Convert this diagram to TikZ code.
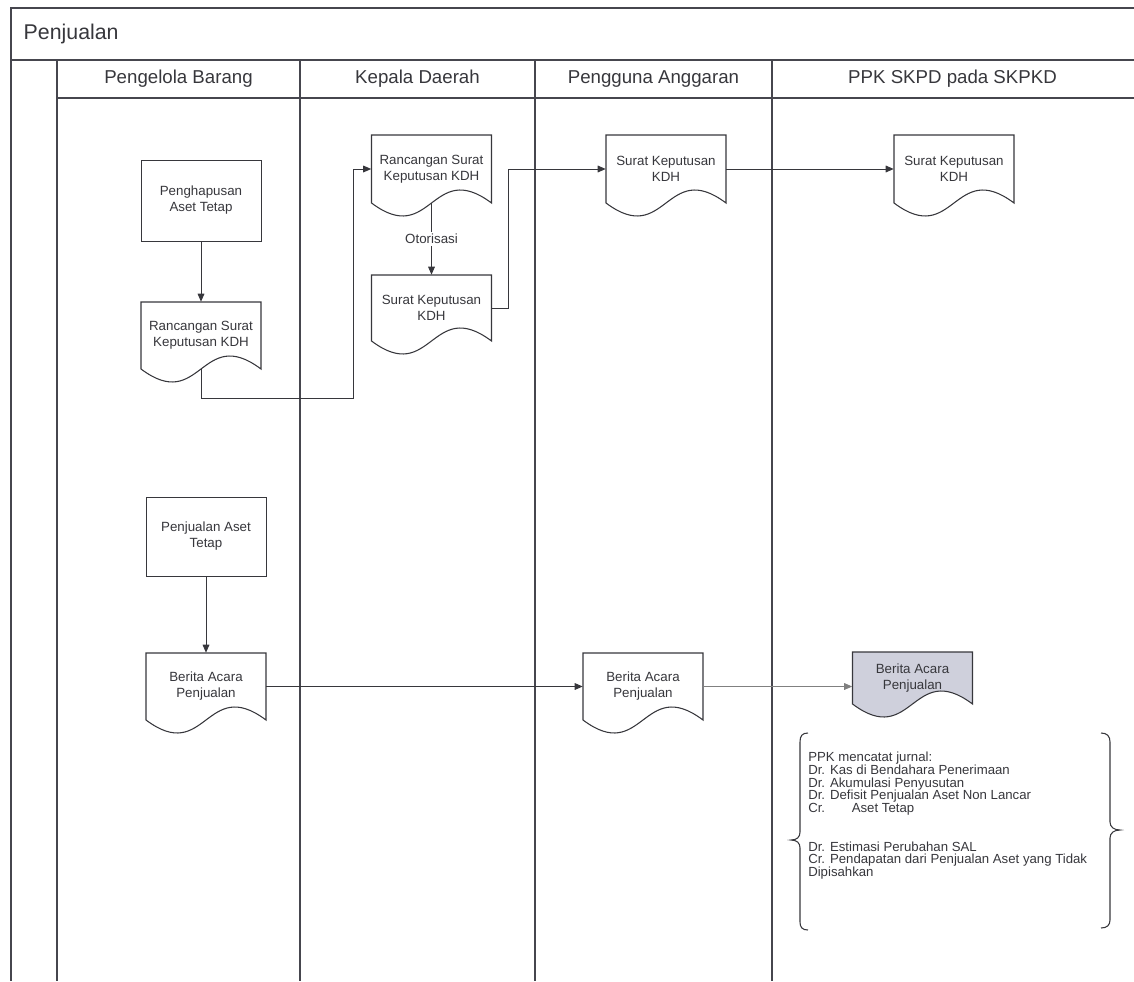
\documentclass[tikz,border=0pt]{standalone}
\usepackage{fontspec}
\setmainfont{Liberation Sans}
\usetikzlibrary{arrows.meta,calc}

\definecolor{inkgray}{RGB}{55,55,60}
\definecolor{lanegray}{RGB}{70,70,78}
\definecolor{docshade}{RGB}{207,208,220}

\tikzset{
  lane/.style={draw=lanegray, line width=1pt},
  docline/.style={draw=inkgray, line width=0.8pt},
  flow/.style={draw=inkgray, line width=0.75pt, -{Triangle[length=6pt,width=5pt]}},
  procbox/.style={draw=inkgray, line width=0.65pt, fill=white, minimum width=90pt, align=center,
    font=\fontsize{10}{12}\selectfont, text=inkgray, inner sep=2pt},
  doctext/.style={minimum width=90pt, align=center,
    font=\fontsize{10}{12}\selectfont, text=inkgray, inner sep=0pt},
  lanetitle/.style={font=\fontsize{14}{16}\selectfont, text=inkgray},
  journal/.style={align=left, font=\fontsize{9.9}{9.5}\selectfont, text=inkgray, inner sep=0pt},
}

% document symbol: straight top and sides, S-shaped bottom edge
% #1 fill, #2 name, #3 centre x, #4 top y, #5 height, #6 text
\newcommand{\docnode}[6][white]{%
  \draw[docline, fill=#1] (#3-60,#4) -- (#3-60,#4+#5)
    .. controls (#3,#4+#5+45) and (#3,#4+#5-45) .. (#3+60,#4+#5)
    -- (#3+60,#4) -- cycle;
  \node[doctext, minimum height=#5*0.75pt] (#2) at (#3,#4+#5/2) {#6};
}

\begin{document}
\begin{tikzpicture}[x=0.75pt, y=-0.75pt]
\useasboundingbox (0,0) rectangle (1134,981);

% frame, title row, lane headers and lane dividers
\draw[lane] (1134,8) -- (11,8) -- (11,981);
\draw[lane] (11,60) -- (1134,60);
\draw[lane] (57,98) -- (1134,98);
\foreach \xx in {57,300,535,772} \draw[lane] (\xx,60) -- (\xx,981);

\node[anchor=west, font=\fontsize{16}{18}\selectfont, text=inkgray] (title) at (19,34) {Penjualan};
\node[lanetitle] (h1) at (178.5,79) {Pengelola Barang};
\node[lanetitle] (h2) at (417.5,79) {Kepala Daerah};
\node[lanetitle] (h3) at (653.5,79) {Pengguna Anggaran};
\node[lanetitle] (h4) at (952.5,79) {PPK SKPD pada SKPKD};

% upper flow: write-off decree
\node[procbox, minimum height=60.75pt] (ph) at (201,200.5) {Penghapusan\\Aset Tetap};
\docnode{r1}{201}{302}{67}{Rancangan Surat\\Keputusan KDH}
\docnode{k1}{431.5}{135}{68}{Rancangan Surat\\Keputusan KDH}
\docnode{k2}{431.5}{275}{66}{Surat Keputusan\\KDH}
\docnode{p1}{666}{135}{68}{Surat Keputusan\\KDH}
\docnode{s1}{954}{135}{68}{Surat Keputusan\\KDH}

\draw[flow] (ph.south) -- (r1.north);
\draw[flow] (r1.south) -- ++(0,29) -| ($(k1.west)+(-18,0)$) -- (k1.west);
\draw[flow] (k1.south) -- node[fill=white, inner sep=1.5pt, font=\fontsize{10}{12}\selectfont, text=inkgray] {Otorisasi} (k2.north);
\draw[flow] (k2.east) -- ++(17,0) |- (p1.west);
\draw[flow] (p1.east) -- (s1.west);

% lower flow: sale
\node[procbox, minimum height=59.25pt] (pa) at (206,536.5) {Penjualan Aset\\Tetap};
\docnode{b1}{206}{653}{67}{Berita Acara\\Penjualan}
\docnode{b2}{643}{653}{67}{Berita Acara\\Penjualan}
\docnode[docshade]{b3}{912.5}{652}{52}{Berita Acara\\Penjualan}

\draw[flow] (pa.south) -- (b1.north);
\draw[flow] (b1.east) -- (b2.west);
\draw[flow, draw=gray, {-{Triangle[length=6pt,width=5pt,fill=gray]}}] (b2.east) -- (b2.east -| b3.west);

% journal entries between braces
\node[journal, anchor=north west] (jr) at (808,752) {PPK mencatat jurnal:\\
Dr. Kas di Bendahara Penerimaan\\
Dr. Akumulasi Penyusutan\\
Dr. Defisit Penjualan Aset Non Lancar\\
Cr.\hspace{20pt}Aset Tetap\\[19.5pt]
Dr. Estimasi Perubahan SAL\\
Cr. Pendapatan dari Penjualan Aset yang Tidak\\
Dipisahkan};

\draw[docline] (808,733) .. controls (802,733) and (800,736) .. (800,742) -- (800,832)
  .. controls (800,837) and (797,840) .. (791,840)
  .. controls (797,840) and (800,843) .. (800,848) -- (800,922)
  .. controls (800,927) and (802,930) .. (808,930);
\draw[docline] (1101,733) .. controls (1107,733) and (1110,736) .. (1110,742) -- (1110,822)
  .. controls (1110,827) and (1114,830) .. (1120,830)
  .. controls (1114,830) and (1110,833) .. (1110,838) -- (1110,920)
  .. controls (1110,925) and (1107,928) .. (1101,928);
\end{tikzpicture}
\end{document}
